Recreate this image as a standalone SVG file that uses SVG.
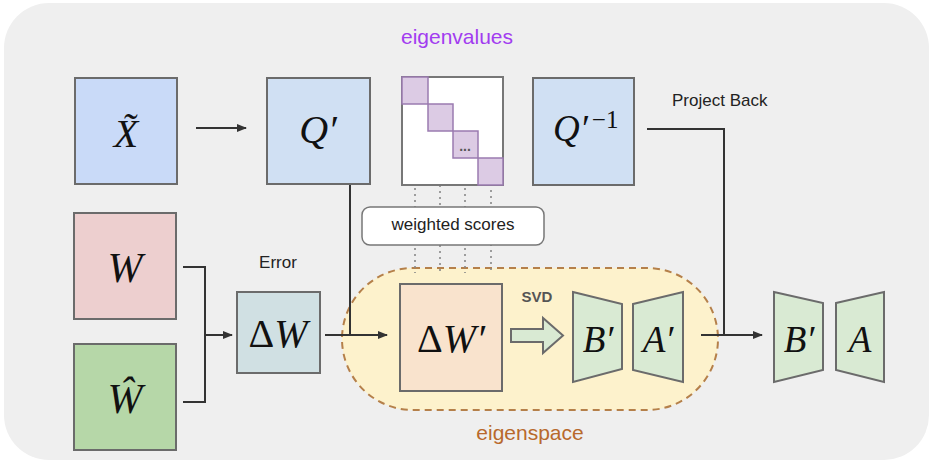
<svg xmlns="http://www.w3.org/2000/svg" width="933" height="464" viewBox="0 0 933 464">
<defs>
<marker id="ah" markerWidth="10" markerHeight="8" refX="9" refY="4" orient="auto" markerUnits="userSpaceOnUse">
<path d="M0,0 L10,4 L0,8 z" fill="#333"/>
</marker>
<style>
.box{stroke:#6b6b6b;stroke-width:2}
.m{font-family:"Liberation Serif",serif;font-style:italic;fill:#111}
.u{font-family:"Liberation Serif",serif;font-style:normal;fill:#111}
.lbl{font-family:"Liberation Sans",Arial,sans-serif;fill:#222}
.ln{fill:none;stroke:#333;stroke-width:2}
.dot{fill:none;stroke:#888;stroke-width:1.6;stroke-dasharray:2 4}
.trap{fill:#d9ead3;stroke:#6b6b6b;stroke-width:2}
.sq{fill:#dccbe4;stroke:#9a7bb0;stroke-width:1.5}
</style>
</defs>
<rect x="4" y="3" width="925" height="457" rx="45" fill="#efefef"/>
<text x="457" y="44" text-anchor="middle" class="lbl" font-size="21" style="fill:#a23cf0">eigenvalues</text>
<g id="eigenspace">
<rect x="342" y="268" width="376" height="142" rx="71" fill="#fdf2cc" stroke="#b5804a" stroke-width="2" stroke-dasharray="7 5"/>
<text x="530" y="440" text-anchor="middle" class="lbl" font-size="21" style="fill:#b8692c">eigenspace</text>
</g>
<g id="connectors">
<line x1="196" y1="128" x2="246" y2="128" class="ln" marker-end="url(#ah)"/>
<path d="M183,267 H205 V402 H183" class="ln"/>
<line x1="205" y1="335" x2="232" y2="335" class="ln" marker-end="url(#ah)"/>
<path d="M350,184 V335" class="ln"/>
<line x1="325" y1="335" x2="387" y2="335" class="ln" marker-end="url(#ah)"/>
<path d="M647,129 H724 V335" class="ln"/>
<line x1="701" y1="335" x2="762" y2="335" class="ln" marker-end="url(#ah)"/>
<line x1="415" y1="104" x2="415" y2="273" class="dot"/>
<line x1="440" y1="131" x2="440" y2="273" class="dot"/>
<line x1="465" y1="158" x2="465" y2="273" class="dot"/>
<line x1="491" y1="172" x2="491" y2="273" class="dot"/>
</g>
<g id="xtilde">
<rect x="75" y="78" width="102" height="106" fill="#c9daf8" class="box"/>
<text x="126" y="147" text-anchor="middle" class="m" font-size="40">X̃</text>
</g>
<g id="qprime">
<rect x="267" y="78" width="103" height="106" fill="#d0e0f3" class="box"/>
<text x="318" y="143" text-anchor="middle" class="m" font-size="40">Q′</text>
</g>
<g id="matrix">
<rect x="402" y="77" width="101" height="108" fill="#ffffff" stroke="#777" stroke-width="2"/>
<rect x="402" y="77" width="26" height="27" class="sq"/>
<rect x="428" y="104" width="25" height="27" class="sq"/>
<rect x="453" y="131" width="25" height="27" class="sq"/>
<rect x="478" y="158" width="25" height="27" class="sq"/>
<text x="465" y="151" text-anchor="middle" class="lbl" font-size="14" font-weight="bold" style="fill:#555">...</text>
</g>
<g id="qinv">
<rect x="533" y="78" width="101" height="107" fill="#d0e0f3" class="box"/>
<text x="553" y="141" class="m" font-size="37">Q′<tspan class="u" font-size="25" dx="4" dy="-13">−1</tspan></text>
</g>
<text x="672" y="106" class="lbl" font-size="17">Project Back</text>
<g id="weighted">
<rect x="362" y="207" width="182" height="38" rx="8" fill="#ffffff" stroke="#777" stroke-width="1.5"/>
<text x="453" y="230" text-anchor="middle" class="lbl" font-size="17">weighted scores</text>
</g>
<g id="w">
<rect x="74" y="213" width="102" height="106" fill="#edcfcf" class="box"/>
<text x="125" y="282" text-anchor="middle" class="m" font-size="42">W</text>
</g>
<g id="what">
<rect x="74" y="344" width="102" height="106" fill="#b6d7a8" class="box"/>
<text x="125" y="413" text-anchor="middle" class="m" font-size="42">Ŵ</text>
</g>
<text x="278" y="268" text-anchor="middle" class="lbl" font-size="17">Error</text>
<g id="deltaw">
<rect x="237" y="292" width="83" height="81" fill="#d0e0e3" class="box"/>
<text x="278" y="347" text-anchor="middle" font-size="40"><tspan class="u">Δ</tspan><tspan class="m">W</tspan></text>
</g>
<g id="deltawprime">
<rect x="400" y="284" width="102" height="107" fill="#f9e3cd" class="box"/>
<text x="451" y="352" text-anchor="middle" font-size="40"><tspan class="u">Δ</tspan><tspan class="m">W′</tspan></text>
</g>
<g id="svd">
<text x="537" y="302" text-anchor="middle" class="lbl" font-size="15" font-weight="bold" style="fill:#555">SVD</text>
<path d="M511,329 H543 V318 L563,335.5 L543,353 V342 H511 z" fill="#d9ead3" stroke="#6b6b6b" stroke-width="2"/>
</g>
<g id="bprime1">
<path d="M573,292 L622,304 L622,369 L573,382 z" class="trap"/>
<text x="598" y="352" text-anchor="middle" class="m" font-size="37">B′</text>
</g>
<g id="aprime">
<path d="M633,304 L683,292 L683,382 L633,370 z" class="trap"/>
<text x="658" y="352" text-anchor="middle" class="m" font-size="37">A′</text>
</g>
<g id="bprime2">
<path d="M774,292 L823,303 L823,370 L774,382 z" class="trap"/>
<text x="799" y="352" text-anchor="middle" class="m" font-size="37">B′</text>
</g>
<g id="afinal">
<path d="M836,303 L884,292 L884,382 L836,370 z" class="trap"/>
<text x="860" y="352" text-anchor="middle" class="m" font-size="37">A</text>
</g>
</svg>
